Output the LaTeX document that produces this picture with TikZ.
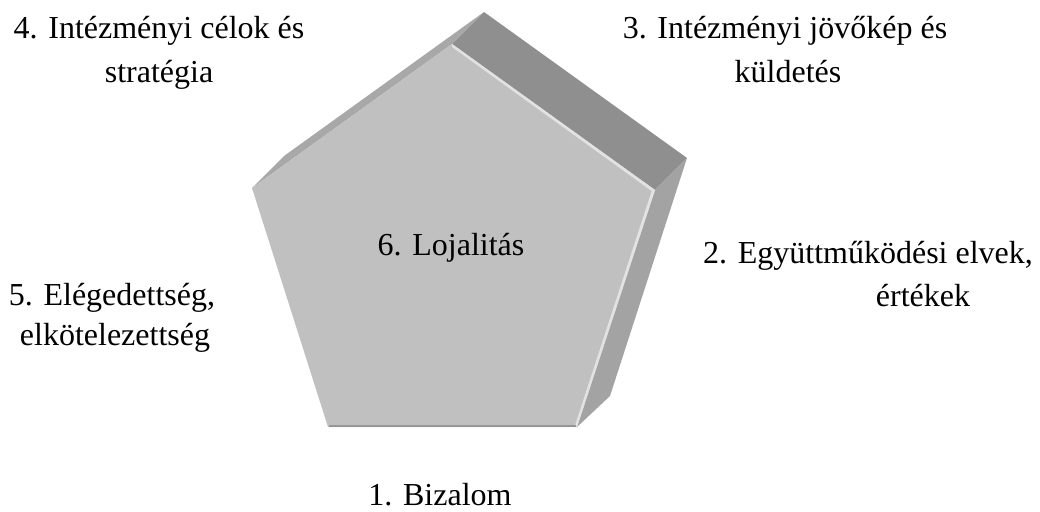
\documentclass[tikz,border=0pt]{standalone}
\usepackage{fontspec}
\usetikzlibrary{calc}
\setmainfont{LiberationSerif-Regular.ttf}
\newfontfamily\tnr{LiberationSerif-Regular.ttf}
\begin{document}
\begin{tikzpicture}[x=1pt,y=-1pt,
  lbl/.style={font=\tnr\fontsize{32}{43}\selectfont, anchor=base, inner sep=0pt, text=black}]
\useasboundingbox (0,0) rectangle (1040,511);
% front pentagon
\coordinate (T) at (452,44);
\coordinate (R) at (655,190);
\coordinate (BR) at (577,427);
\coordinate (BL) at (328,427);
\coordinate (L) at (252,188);
\coordinate (C) at (453,255);
% back pentagon (extrusion)
\coordinate (Tb) at (484,12);
\coordinate (Rb) at (687,158);
\coordinate (BRb) at (610,396);
\coordinate (Lb) at (284,156);
% side faces
\fill[fill={rgb,255:red,168;green,168;blue,168}] (L) -- (T) -- (Tb) -- (Lb) -- cycle;
\fill[fill={rgb,255:red,143;green,143;blue,143}] (T) -- (R) -- (Rb) -- (Tb) -- cycle;
\fill[fill={rgb,255:red,163;green,163;blue,163}] (R) -- (BR) -- (BRb) -- (Rb) -- cycle;
% front face
\fill[fill={rgb,255:red,192;green,192;blue,192}] (T) -- (R) -- (BR) -- (BL) -- (L) -- cycle;
% bevel highlight on the lit edges
\fill[fill={rgb,255:red,226;green,226;blue,226}] (T) -- (R) -- (BR)
  -- ($(BR)!3pt!(C)$) -- ($(R)!3.5pt!(C)$) -- ($(T)!3pt!(C)$) -- cycle;
\draw[draw={rgb,255:red,150;green,150;blue,150}, line width=1.5pt] ($(BL)+(1,-0.8)$) -- ($(BR)+(-1,-0.8)$);
% labels
\node[lbl] (c6) at (451,255) {6. Lojalitás};
\node[lbl] (l4a) at (159,39) {4. Intézményi célok és};
\node[lbl] (l4b) at (159,82) {stratégia};
\node[lbl] (l3a) at (785,38) {3. Intézményi jövőkép és};
\node[lbl] (l3b) at (788,82) {küldetés};
\node[lbl] (l2a) at (868,263) {2. Együttműködési elvek,};
\node[lbl] (l2b) at (923,306) {értékek};
\node[lbl] (l5a) at (112,305) {5. Elégedettség,};
\node[lbl] (l5b) at (115,345) {elkötelezettség};
\node[lbl] (l1) at (440,505) {1. Bizalom};
\end{tikzpicture}
\end{document}
